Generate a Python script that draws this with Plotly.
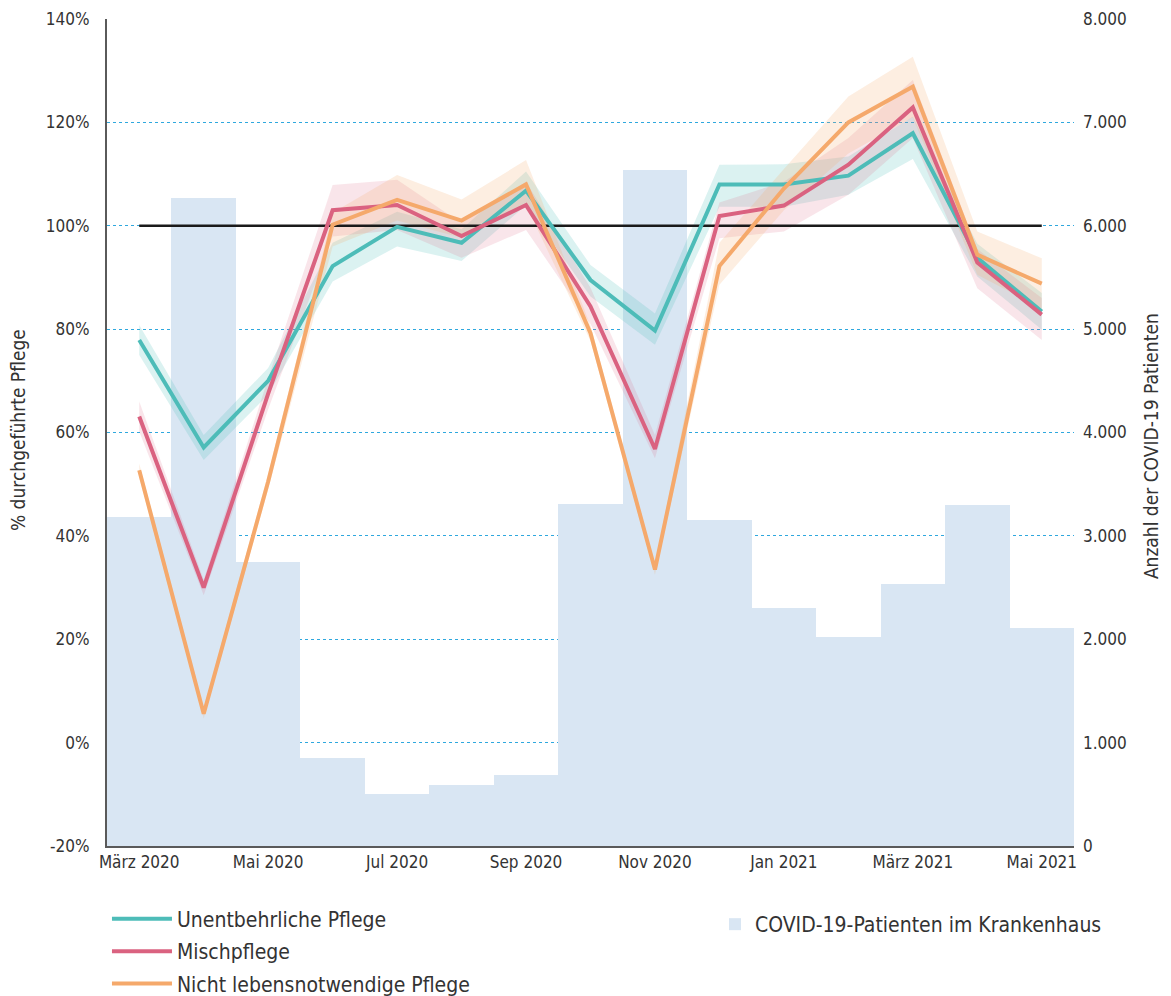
import plotly.graph_objects as go

months = ["März 2020", "Apr 2020", "Mai 2020", "Jun 2020", "Jul 2020", "Aug 2020",
          "Sep 2020", "Okt 2020", "Nov 2020", "Dez 2020", "Jan 2021", "Feb 2021",
          "März 2021", "Apr 2021", "Mai 2021"]
tick_months = months[::2]

patients = [3180, 6270, 2750, 850, 500, 590, 690, 3310, 6540, 3150, 2300, 2020, 2530, 3300, 2110]

teal = [77.9, 57.1, 70.0, 92.2, 99.8, 96.7, 106.8, 89.5, 79.7, 108.0, 108.0, 109.7, 117.9, 93.8, 83.4]
teal_hi = [80.8, 59.5, 72.5, 96.7, 102.7, 99.3, 110.5, 92.4, 83.0, 111.8, 111.9, 113.4, 121.1, 96.5, 87.0]
teal_lo = [75.0, 54.7, 67.3, 89.2, 96.0, 93.2, 104.0, 86.3, 77.0, 103.7, 103.7, 106.0, 112.9, 90.2, 79.9]

pink = [63.1, 30.0, 67.5, 103.0, 104.0, 98.0, 104.0, 84.4, 56.8, 101.9, 103.9, 111.8, 122.9, 92.9, 82.8]
pink_hi = [66.0, 31.5, 70.5, 107.9, 108.9, 100.5, 108.5, 88.0, 59.5, 104.5, 108.5, 117.0, 128.2, 95.5, 86.0]
pink_lo = [60.2, 28.5, 64.5, 97.9, 99.2, 93.8, 99.2, 81.0, 55.0, 97.6, 98.9, 106.0, 117.0, 87.9, 77.9]

orange = [52.7, 5.6, 50.5, 100.2, 105.0, 101.0, 108.0, 79.2, 33.5, 92.2, 107.2, 120.0, 126.9, 94.4, 88.8]
orange_hi = [54.0, 6.6, 52.0, 102.5, 109.8, 105.1, 112.7, 80.7, 34.5, 96.7, 111.0, 125.0, 132.7, 98.9, 93.7]
orange_lo = [51.3, 4.6, 49.0, 96.0, 101.0, 97.7, 104.0, 77.7, 32.5, 88.6, 103.0, 114.0, 121.0, 90.5, 84.0]

ref_level = 100

left_ticks = [-20, 0, 20, 40, 60, 80, 100, 120, 140]
right_ticks = [0, 1000, 2000, 3000, 4000, 5000, 6000, 7000, 8000]
right_ticktext = ["0", "1.000", "2.000", "3.000", "4.000", "5.000", "6.000", "7.000", "8.000"]

left_title = "% durchgeführte Pflege"
right_title = "Anzahl der COVID-19 Patienten"

FONT = "Liberation Sans Narrow, Arial Narrow, DejaVu Sans Condensed, sans-serif"
TXT = "#333333"

series = [
    ("Unentbehrliche Pflege", teal, teal_hi, teal_lo, "#4dbcb8", "rgba(77,188,184,0.20)"),
    ("Mischpflege", pink, pink_hi, pink_lo, "#da6280", "rgba(218,98,128,0.17)"),
    ("Nicht lebensnotwendige Pflege", orange, orange_hi, orange_lo, "#f5a96b", "rgba(245,169,107,0.20)"),
]

fig = go.Figure()

fig.add_trace(go.Bar(
    x=months, y=patients, yaxis="y", width=1.0,
    marker=dict(color="#d9e6f3", line=dict(width=0)),
    name="COVID-19-Patienten im Krankenhaus", legend="legend2",
))

for name, vals, hi, lo, col, fcol in series:
    fig.add_trace(go.Scatter(
        x=months + months[::-1], y=hi + lo[::-1], yaxis="y2",
        fill="toself", fillcolor=fcol, line=dict(width=0), mode="lines",
        showlegend=False, hoverinfo="skip",
    ))

fig.add_trace(go.Scatter(
    x=[months[0], months[-1]], y=[ref_level, ref_level], yaxis="y2",
    mode="lines", line=dict(color="#1a1a1a", width=2.5), showlegend=False,
))

for i, (name, vals, hi, lo, col, fcol) in enumerate(series):
    fig.add_trace(go.Scatter(
        x=months, y=vals, yaxis="y2", mode="lines", name=name,
        line=dict(color=col, width=4), legend="legend", legendgroup=f"g{i}",
    ))

fig.update_layout(
    width=1163, height=988,
    margin=dict(l=99, r=97, t=11, b=150, autoexpand=False),
    paper_bgcolor="white", plot_bgcolor="white",
    font=dict(family=FONT, color=TXT, size=17),
    bargap=0,
    xaxis=dict(
        type="category", range=[-0.5, len(months) - 0.5],
        tickvals=tick_months, ticktext=tick_months, tickangle=0,
        showline=True, linecolor="#5a5a5a", linewidth=2,
        showgrid=False, ticks="", tickfont=dict(size=17, color=TXT),
    ),
    yaxis=dict(
        side="right", range=[0, 8000], tickvals=right_ticks, ticktext=right_ticktext,
        showgrid=False, zeroline=False, showline=False, ticks="",
        tickfont=dict(size=17, color=TXT), ticklabelstandoff=8,
    ),
    yaxis2=dict(
        overlaying="y", side="left", range=[-20, 140], tickvals=left_ticks,
        ticktext=[f"{v}%" for v in left_ticks],
        showgrid=True, gridcolor="#2fa8de", griddash="dot", gridwidth=1.3,
        zeroline=False, showline=True, linecolor="#5a5a5a", linewidth=2, ticks="",
        tickfont=dict(size=17, color=TXT), ticklabelstandoff=12,
    ),
    legend=dict(
        xref="container", yref="container",
        x=0.0851, y=0.0985, xanchor="left", yanchor="top", orientation="v",
        font=dict(size=21, color=TXT), bgcolor="rgba(0,0,0,0)", tracegroupgap=2,
        itemwidth=60,
    ),
    legend2=dict(
        xref="container", yref="container",
        x=0.6079, y=0.0931, xanchor="left", yanchor="top", orientation="v",
        font=dict(size=21, color=TXT), bgcolor="rgba(0,0,0,0)",
    ),
    annotations=[
        dict(text=left_title, xref="paper", yref="paper", x=-0.092, y=0.503,
             textangle=-90, showarrow=False, xanchor="center", yanchor="middle",
             font=dict(size=19, color=TXT)),
        dict(text=right_title, xref="paper", yref="paper", x=1.079, y=0.484,
             textangle=-90, showarrow=False, xanchor="center", yanchor="middle",
             font=dict(size=19, color=TXT)),
    ],
)

fig.write_html("out.html")
